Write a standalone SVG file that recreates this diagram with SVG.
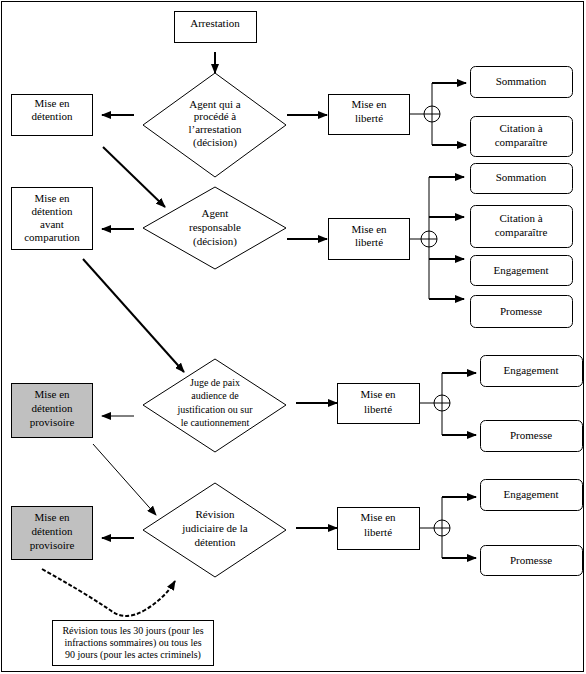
<svg xmlns="http://www.w3.org/2000/svg" width="586" height="674" viewBox="0 0 586 674" font-family="'Liberation Serif', 'Times New Roman', Times, serif">
<style>
text{font-size:11px;fill:#000;text-anchor:middle}
.sm{font-size:10px}
.box{fill:#fff;stroke:#000;stroke-width:1}
.gray{fill:#c0c0c0;stroke:#000;stroke-width:1}
.rnd{fill:#fff;stroke:#000;stroke-width:1}
.thick{stroke:#000;stroke-width:2;fill:none}
.thin{stroke:#000;stroke-width:1;fill:none}
.dash{stroke:#000;stroke-width:2;fill:none;stroke-dasharray:4,2}
</style>
<defs>
<marker id="ah" markerUnits="userSpaceOnUse" markerWidth="10" markerHeight="8" refX="9" refY="4" orient="auto">
<path d="M0,0 L10,4 L0,8 Z" fill="#000"/>
</marker>
</defs>
<rect x="0" y="0" width="586" height="674" fill="#fff"/>
<rect x="1.5" y="1.5" width="582" height="670" fill="none" stroke="#000" stroke-width="1"/>

<g id="connectors">
<line class="thick" x1="215" y1="52" x2="215" y2="73" marker-end="url(#ah)"/>
<line class="thick" x1="134" y1="115" x2="102" y2="115" marker-end="url(#ah)"/>
<line class="thick" x1="287" y1="115" x2="327" y2="115" marker-end="url(#ah)"/>
<line class="thick" x1="103" y1="147" x2="165" y2="207" marker-end="url(#ah)"/>
<line class="thick" x1="134" y1="229" x2="102" y2="229" marker-end="url(#ah)"/>
<line class="thick" x1="287" y1="239" x2="327" y2="239" marker-end="url(#ah)"/>
<line class="thick" x1="83" y1="259" x2="184" y2="372" marker-end="url(#ah)"/>
<line class="thin" x1="134" y1="416" x2="102" y2="416" marker-end="url(#ah)"/>
<line class="thick" x1="296" y1="403" x2="337" y2="403" marker-end="url(#ah)"/>
<line class="thin" x1="93" y1="444" x2="156" y2="515" marker-end="url(#ah)"/>
<line class="thick" x1="134" y1="538" x2="102" y2="538" marker-end="url(#ah)"/>
<line class="thick" x1="296" y1="528" x2="337" y2="528" marker-end="url(#ah)"/>
<path class="dash" d="M42,569 Q80,590 110,610 Q125,622 145,610 Q165,598 175,581" marker-end="url(#ah)"/>

<line class="thin" x1="409" y1="114" x2="424" y2="114"/>
<circle class="thin" cx="432" cy="114" r="8"/>
<line class="thin" x1="424" y1="114" x2="440" y2="114"/>
<line class="thin" x1="432" y1="83" x2="432" y2="145"/>
<line class="thick" x1="432" y1="83" x2="466" y2="83" marker-end="url(#ah)"/>
<line class="thick" x1="432" y1="145" x2="466" y2="145" marker-end="url(#ah)"/>

<line class="thin" x1="409" y1="239" x2="421" y2="239"/>
<circle class="thin" cx="429" cy="239" r="8"/>
<line class="thin" x1="421" y1="239" x2="437" y2="239"/>
<line class="thin" x1="429" y1="177" x2="429" y2="299"/>
<line class="thick" x1="429" y1="177" x2="464" y2="177" marker-end="url(#ah)"/>
<line class="thick" x1="429" y1="217" x2="464" y2="217" marker-end="url(#ah)"/>
<line class="thick" x1="429" y1="259" x2="464" y2="259" marker-end="url(#ah)"/>
<line class="thick" x1="429" y1="299" x2="464" y2="299" marker-end="url(#ah)"/>

<line class="thin" x1="419" y1="403" x2="434" y2="403"/>
<circle class="thin" cx="442" cy="403" r="8"/>
<line class="thin" x1="434" y1="403" x2="450" y2="403"/>
<line class="thin" x1="442" y1="373" x2="442" y2="435"/>
<line class="thick" x1="442" y1="373" x2="476" y2="373" marker-end="url(#ah)"/>
<line class="thick" x1="442" y1="435" x2="476" y2="435" marker-end="url(#ah)"/>

<line class="thin" x1="419" y1="528" x2="434" y2="528"/>
<circle class="thin" cx="442" cy="528" r="8"/>
<line class="thin" x1="434" y1="528" x2="450" y2="528"/>
<line class="thin" x1="442" y1="497" x2="442" y2="558"/>
<line class="thick" x1="442" y1="497" x2="476" y2="497" marker-end="url(#ah)"/>
<line class="thick" x1="442" y1="558" x2="476" y2="558" marker-end="url(#ah)"/>
</g>

<g id="arrestation"><rect class="box" x="174.5" y="11.5" width="82" height="31"/><text x="215" y="27">Arrestation</text></g>

<g id="d1"><polygon class="box" points="215,73 286,125 215,177 143,125"/>
<text x="215" y="108">Agent qui a</text><text x="215" y="120">procédé à</text><text x="215" y="133">l’arrestation</text><text x="215" y="146">(décision)</text></g>
<g id="det1"><rect class="box" x="11.5" y="94.5" width="81" height="41"/><text x="52" y="107">Mise en</text><text x="52" y="120">détention</text></g>
<g id="lib1"><rect class="box" x="328.5" y="94.5" width="81" height="40"/><text x="369" y="108">Mise en</text><text x="369" y="122">liberté</text></g>
<g id="som1"><rect class="rnd" x="470.5" y="66.5" width="102" height="31" rx="5"/><text x="521" y="85">Sommation</text></g>
<g id="cit1"><rect class="rnd" x="470.5" y="116.5" width="102" height="40" rx="5"/><text x="521" y="132">Citation à</text><text x="521" y="146">comparaître</text></g>

<g id="d2"><polygon class="box" points="215,187 286,228 215,269 143,228"/>
<text x="215" y="217">Agent</text><text x="215" y="231">responsable</text><text x="215" y="245">(décision)</text></g>
<g id="det2"><rect class="box" x="11.5" y="187.5" width="81" height="62"/><text x="52" y="202">Mise en</text><text x="52" y="215">détention</text><text x="52" y="228">avant</text><text x="52" y="241">comparution</text></g>
<g id="lib2"><rect class="box" x="328.5" y="218.5" width="81" height="41"/><text x="369" y="233">Mise en</text><text x="369" y="246">liberté</text></g>
<g id="som2"><rect class="rnd" x="470.5" y="163.5" width="102" height="30" rx="5"/><text x="521" y="181">Sommation</text></g>
<g id="cit2"><rect class="rnd" x="470.5" y="205.5" width="102" height="42" rx="5"/><text x="521" y="222">Citation à</text><text x="521" y="236">comparaître</text></g>
<g id="eng2"><rect class="rnd" x="470.5" y="255.5" width="102" height="30" rx="5"/><text x="521" y="274">Engagement</text></g>
<g id="pro2"><rect class="rnd" x="470.5" y="295.5" width="102" height="32" rx="5"/><text x="521" y="315">Promesse</text></g>

<g id="d3"><polygon class="box" points="215,359 286,405 215,452 143,405"/>
<text class="sm" x="215" y="386">Juge de paix</text><text class="sm" x="215" y="399">audience de</text><text class="sm" x="215" y="413">justification ou sur</text><text class="sm" x="215" y="426">le cautionnement</text></g>
<g id="det3"><rect class="gray" x="11.5" y="383.5" width="81" height="54"/><text x="52" y="398">Mise en</text><text x="52" y="412">détention</text><text x="52" y="426">provisoire</text></g>
<g id="lib3"><rect class="box" x="337.5" y="383.5" width="82" height="40"/><text x="378" y="398">Mise en</text><text x="378" y="413">liberté</text></g>
<g id="eng3"><rect class="rnd" x="480.5" y="355.5" width="102" height="31" rx="5"/><text x="531" y="374">Engagement</text></g>
<g id="pro3"><rect class="rnd" x="480.5" y="420.5" width="102" height="31" rx="5"/><text x="531" y="439">Promesse</text></g>

<g id="d4"><polygon class="box" points="215,483 286,530 215,577 143,530"/>
<text x="215" y="518">Révision</text><text x="215" y="532">judiciaire de la</text><text x="215" y="546">détention</text></g>
<g id="det4"><rect class="gray" x="11.5" y="506.5" width="81" height="53"/><text x="52" y="521">Mise en</text><text x="52" y="535">détention</text><text x="52" y="549">provisoire</text></g>
<g id="lib4"><rect class="box" x="337.5" y="507.5" width="82" height="42"/><text x="378" y="521">Mise en</text><text x="378" y="536">liberté</text></g>
<g id="eng4"><rect class="rnd" x="480.5" y="479.5" width="102" height="31" rx="5"/><text x="531" y="498">Engagement</text></g>
<g id="pro4"><rect class="rnd" x="480.5" y="545.5" width="102" height="30" rx="5"/><text x="531" y="564">Promesse</text></g>

<g id="note"><rect class="box" x="52.5" y="620.5" width="161" height="45"/>
<text class="sm" x="133" y="634">Révision tous les 30 jours (pour les</text><text class="sm" x="133" y="646">infractions sommaires) ou tous les</text><text class="sm" x="133" y="658">90 jours (pour les actes criminels)</text></g>
</svg>
